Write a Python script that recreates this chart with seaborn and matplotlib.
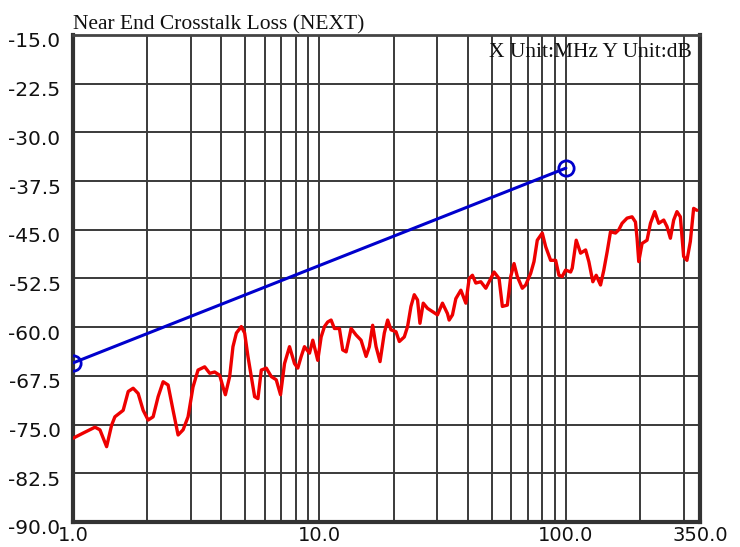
import numpy as np
import pandas as pd
import matplotlib
matplotlib.use("Agg")
import matplotlib.pyplot as plt
import matplotlib.ticker as mticker
from matplotlib.transforms import ScaledTranslation
import seaborn as sns

# ---- data ----
next_freq = [1.00, 1.10, 1.228, 1.286, 1.369, 1.434, 1.479, 1.598, 1.675, 1.754,
             1.838, 1.926, 2.018, 2.114, 2.215, 2.321, 2.431, 2.547, 2.669, 2.797,
             2.930, 3.069, 3.216, 3.422, 3.587, 3.757, 3.937, 4.060, 4.152, 4.322,
             4.457, 4.601, 4.820, 4.971, 5.127, 5.292, 5.457, 5.628, 5.808, 6.085,
             6.375, 6.678, 6.952, 7.216, 7.560, 7.921, 8.168, 8.432, 8.694, 9.111,
             9.396, 9.842, 10.16, 10.48, 10.80, 11.15, 11.50, 12.05, 12.43, 12.83,
             13.44, 14.08, 14.75, 15.46, 15.94, 16.44, 16.97, 17.61, 18.33, 18.91,
             19.51, 20.44, 21.09, 22.09, 22.78, 23.51, 24.25, 25.00, 25.57, 26.37,
             27.45, 28.76, 30.12, 31.56, 33.06, 33.59, 34.65, 35.76, 37.48, 39.26,
             40.50, 41.75, 43.10, 45.16, 47.31, 48.79, 51.11, 53.55, 55.23, 57.86,
             59.72, 61.59, 63.51, 66.54, 68.68, 71.96, 74.21, 76.53, 80.18, 82.77,
             86.70, 90.85, 93.69, 96.6, 99.7, 104.5, 106.1, 110.1, 114.7, 120.2,
             123.9, 128.6, 132.7, 138.2, 142.5, 147.0, 151.7, 158.9, 163.9, 169.0,
             177.1, 185.5, 191.5, 194.4, 197.5, 203.7, 213.4, 220.3, 229.3, 238.0,
             249.4, 257.1, 265.4, 273.7, 282.2, 291.3, 300.4, 309.8, 319.8, 329.8,
             340.1]
next_db = [-77.1, -76.3, -75.4, -75.8, -78.4, -75.1, -73.8, -72.8, -69.9, -69.4,
           -70.2, -72.8, -74.3, -73.8, -70.7, -68.4, -68.9, -72.8, -76.6, -75.8,
           -73.8, -69.2, -66.6, -66.1, -67.1, -66.9, -67.4, -69.2, -70.4, -67.6,
           -63.0, -60.9, -59.9, -60.9, -64.5, -67.6, -70.7, -71.0, -66.6, -66.3,
           -67.6, -68.1, -70.4, -65.6, -63.0, -65.6, -66.3, -64.5, -63.0, -64.0,
           -62.0, -65.1, -61.5, -59.9, -59.2, -58.9, -60.2, -60.2, -63.5, -63.8,
           -60.2, -61.2, -62.0, -64.5, -63.0, -59.7, -63.0, -65.3, -60.9, -58.9,
           -60.4, -60.7, -62.2, -61.5, -59.9, -56.8, -55.0, -55.8, -59.4, -56.3,
           -57.1, -57.6, -58.1, -56.3, -57.9, -58.9, -58.1, -55.6, -54.3, -56.3,
           -52.5, -52.0, -53.2, -53.0, -54.0, -53.0, -51.5, -52.5, -56.8, -56.6,
           -52.2, -50.2, -52.2, -54.0, -53.5, -51.7, -49.9, -46.6, -45.5, -47.6,
           -49.7, -49.7, -52.0, -52.2, -51.2, -51.5, -50.9, -46.6, -48.6, -48.1,
           -49.9, -53.0, -52.0, -53.5, -51.2, -48.4, -45.3, -45.5, -45.0, -44.0,
           -43.2, -43.0, -43.8, -46.3, -49.9, -47.1, -46.6, -44.0, -42.2, -44.0,
           -43.5, -44.5, -46.3, -43.5, -42.2, -43.0, -49.1, -49.7, -46.8, -41.7,
           -42.0]

limit_freq = [1.0, 100.0]
limit_db = [-65.5, -35.5]

y_ticks = [-90.0, -82.5, -75.0, -67.5, -60.0, -52.5, -45.0, -37.5, -30.0, -22.5, -15.0]
x_ticks = [1.0, 10.0, 100.0, 350.0]
x_tick_labels = ["1.0", "10.0", "100.0", "350.0"]
title = "Near End Crosstalk Loss (NEXT)"
unit_text = "X Unit:MHz Y Unit:dB"

# ---- plot ----
sns.set_style("white")
plt.rcParams["font.family"] = ["DejaVu Sans"]

fig = plt.figure(figsize=(7.4, 5.47), dpi=100)
ax = fig.add_axes([73 / 740, 1 - 522 / 547, (700 - 73) / 740, (522 - 35) / 547])

df_next = pd.DataFrame({"freq": next_freq, "db": next_db})
df_lim = pd.DataFrame({"freq": limit_freq, "db": limit_db})

sns.lineplot(data=df_lim, x="freq", y="db", ax=ax, color="#0000cc", linewidth=2.2,
             estimator=None, sort=False, marker="o", markersize=11,
             markerfacecolor="none", markeredgecolor="#0000cc", markeredgewidth=2.0,
             zorder=4)
sns.lineplot(data=df_next, x="freq", y="db", ax=ax, color="#ee0000", linewidth=2.4,
             estimator=None, sort=False, zorder=3)

ax.set_xscale("log")
ax.set_xlim(1.0, 350.0)
ax.set_ylim(-90.0, -15.0)
ax.set_xticks(x_ticks)
ax.set_xticklabels(x_tick_labels)
ax.xaxis.set_minor_locator(mticker.FixedLocator(
    [2, 3, 4, 5, 6, 7, 8, 9, 20, 30, 40, 50, 60, 70, 80, 90, 200, 300]))
ax.xaxis.set_minor_formatter(mticker.NullFormatter())
ax.set_yticks(y_ticks)
ax.set_yticklabels([f"{v:.1f}" for v in y_ticks])
ax.set_xlabel("")
ax.set_ylabel("")

ax.grid(True, which="both", color="#3a3a3a", linewidth=1.4)
ax.set_axisbelow(True)
ax.tick_params(axis="both", which="both", length=0, colors="#111111")
ax.tick_params(axis="y", pad=9, labelsize=14.5)
ax.tick_params(axis="x", pad=3, labelsize=14)

for lab in ax.get_yticklabels():
    lab.set_transform(lab.get_transform() + ScaledTranslation(0, -0.05, fig.dpi_scale_trans))

for side in ["left", "bottom", "right"]:
    ax.spines[side].set_visible(True)
    ax.spines[side].set_color("#333333")
    ax.spines[side].set_linewidth(3.0)
ax.spines["top"].set_visible(True)
ax.spines["top"].set_color("#444444")
ax.spines["top"].set_linewidth(2.0)

fig.text(73 / 740, 1 - 29 / 547, title, family=["Liberation Serif"], fontsize=15.5,
         ha="left", va="baseline", color="#111111")
fig.text(692 / 740, 1 - 57 / 547, unit_text, family=["Liberation Serif"], fontsize=15.5,
         ha="right", va="baseline", color="#111111")

fig.savefig("out.png", dpi=100, facecolor="white")
